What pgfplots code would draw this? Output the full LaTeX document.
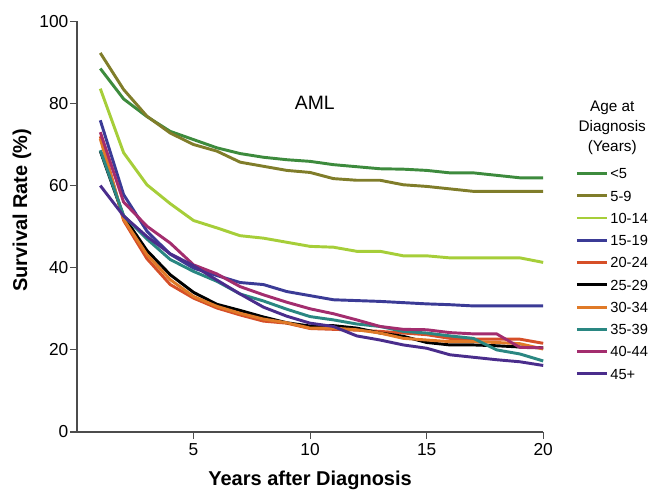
\documentclass[border=0pt]{standalone}
\usepackage{fontspec}
\setmainfont{Liberation Sans}
\usepackage{pgfplots}
\pgfplotsset{compat=1.18}
\definecolor{cA}{HTML}{3D8B3D}
\definecolor{cB}{HTML}{807D2A}
\definecolor{cC}{HTML}{A6CE39}
\definecolor{cD}{HTML}{3B3B96}
\definecolor{cE}{HTML}{D64F28}
\definecolor{cF}{HTML}{000000}
\definecolor{cG}{HTML}{E07A28}
\definecolor{cH}{HTML}{2A8782}
\definecolor{cI}{HTML}{A32D6E}
\definecolor{cJ}{HTML}{4A2D8C}
\begin{document}
\begin{tikzpicture}
\useasboundingbox (-57.75pt,-42.75pt) rectangle (431.25pt,324pt);
\begin{axis}[
  at={(0,0)}, anchor=origin,
  scale only axis, width=349.65pt, height=308pt,
  xmin=0, xmax=20, ymin=0, ymax=100,
  axis lines*=left,
  axis line style={draw=black!70, line width=0.8pt},
  xtick={5,10,15,20}, ytick={0,20,40,60,80,100},
  tick align=outside, major tick length=5pt,
  tick style={draw=black!70, line width=0.8pt},
  /pgf/number format/assume math mode=true,
  ticklabel style={font=\fontsize{13}{15}\selectfont},
  yticklabel style={xshift=2pt},
  xlabel={\bfseries Years after Diagnosis},
  ylabel={\bfseries Survival Rate (\%)},
  label style={font=\fontsize{15}{17}\selectfont},
  xlabel style={at={(axis description cs:0.5,-0.117)}, anchor=center},
  ylabel style={at={(axis description cs:-0.118,0.54)}, anchor=center},
  every axis plot/.append style={line width=2.2pt, no markers, line join=round},
  legend cell align=left,
  legend style={at={(rel axis cs:1.0687,0.3855)}, anchor=west, draw=none, fill=none,
    inner sep=0pt, row sep=8.7pt, column sep=1.5pt,
    font=\fontsize{11}{13}\selectfont,
    nodes={inner sep=0pt, text height=8pt, text depth=0pt}},
  legend image code/.code={\draw[#1] (0pt,0pt) -- (22.5pt,0pt);},
  clip=false,
]
\addplot[cA] coordinates {(1,88.5)(2,81.1)(3,76.8)(4,73.2)(5,71.2)(6,69.2)(7,67.8)(8,66.9)(9,66.3)(10,65.9)(11,65.1)(12,64.6)(13,64.1)(14,64.0)(15,63.7)(16,63.1)(17,63.1)(18,62.5)(19,61.9)(20,61.9)};
\addlegendentry{<5}
\addplot[cB] coordinates {(1,92.3)(2,83.4)(3,76.9)(4,72.8)(5,70.0)(6,68.4)(7,65.7)(8,64.7)(9,63.7)(10,63.2)(11,61.7)(12,61.3)(13,61.3)(14,60.2)(15,59.8)(16,59.2)(17,58.6)(18,58.6)(19,58.6)(20,58.6)};
\addlegendentry{5-9}
\addplot[cC] coordinates {(1,83.6)(2,68.0)(3,60.2)(4,55.6)(5,51.5)(6,49.7)(7,47.8)(8,47.2)(9,46.2)(10,45.2)(11,45.0)(12,44.0)(13,44.0)(14,42.9)(15,42.9)(16,42.4)(17,42.4)(18,42.4)(19,42.4)(20,41.3)};
\addlegendentry{10-14}
\addplot[cD] coordinates {(1,75.9)(2,57.8)(3,48.9)(4,43.3)(5,39.9)(6,38.1)(7,36.4)(8,35.9)(9,34.2)(10,33.2)(11,32.2)(12,32.0)(13,31.8)(14,31.5)(15,31.2)(16,31.0)(17,30.7)(18,30.7)(19,30.7)(20,30.7)};
\addlegendentry{15-19}
\addplot[cE] coordinates {(1,72.0)(2,51.5)(3,42.2)(4,35.9)(5,32.6)(6,30.2)(7,28.5)(8,27.0)(9,26.5)(10,25.2)(11,25.0)(12,24.8)(13,24.5)(14,24.1)(15,23.7)(16,22.8)(17,22.6)(18,22.6)(19,22.6)(20,21.6)};
\addlegendentry{20-24}
\addplot[cF] coordinates {(1,68.4)(2,52.5)(3,44.2)(4,38.3)(5,34.0)(6,31.1)(7,29.6)(8,28.0)(9,26.6)(10,25.8)(11,25.9)(12,25.3)(13,24.1)(14,23.3)(15,21.8)(16,21.2)(17,21.2)(18,21.0)(19,20.7)(20,20.5)};
\addlegendentry{25-29}
\addplot[cG] coordinates {(1,71.4)(2,51.8)(3,43.2)(4,37.1)(5,33.0)(6,30.6)(7,28.9)(8,27.5)(9,26.6)(10,25.3)(11,25.3)(12,24.9)(13,24.1)(14,22.8)(15,22.4)(16,22.0)(17,22.0)(18,21.8)(19,21.5)(20,20.2)};
\addlegendentry{30-34}
\addplot[cH] coordinates {(1,68.6)(2,52.7)(3,47.0)(4,42.0)(5,39.1)(6,36.7)(7,33.6)(8,31.9)(9,29.9)(10,28.1)(11,27.3)(12,26.3)(13,25.7)(14,24.5)(15,24.1)(16,23.4)(17,22.8)(18,20.0)(19,19.0)(20,17.3)};
\addlegendentry{35-39}
\addplot[cI] coordinates {(1,73.0)(2,56.0)(3,50.1)(4,46.0)(5,40.7)(6,38.5)(7,35.4)(8,33.4)(9,31.6)(10,30.0)(11,28.8)(12,27.3)(13,25.7)(14,25.0)(15,24.9)(16,24.2)(17,23.9)(18,23.9)(19,20.6)(20,20.5)};
\addlegendentry{40-44}
\addplot[cJ] coordinates {(1,60.0)(2,52.6)(3,47.6)(4,43.4)(5,40.5)(6,37.0)(7,33.6)(8,30.4)(9,28.2)(10,26.5)(11,25.7)(12,23.4)(13,22.4)(14,21.2)(15,20.4)(16,18.8)(17,18.2)(18,17.6)(19,17.1)(20,16.2)};
\addlegendentry{45+}
\node[font=\fontsize{14.5}{17}\selectfont] at (axis cs:10.2,80.2) {AML};
\node[align=center, font=\fontsize{11.5}{15}\selectfont] at (rel axis cs:1.148,0.740) {Age at\\Diagnosis\\(Years)};
\end{axis}
\end{tikzpicture}
\end{document}
